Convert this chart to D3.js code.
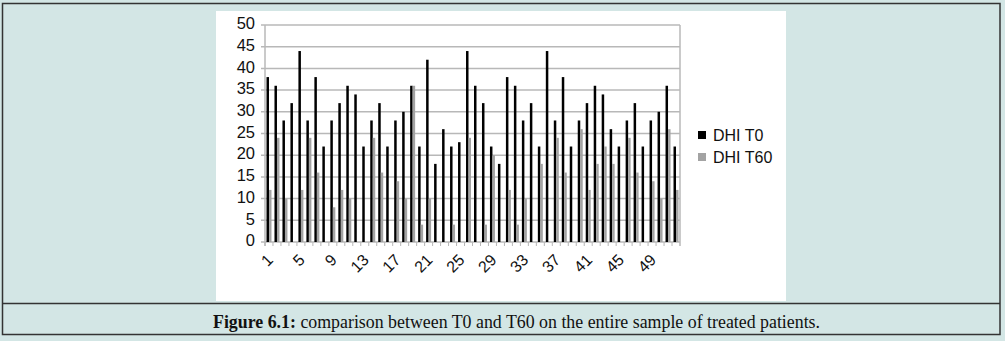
<!DOCTYPE html>
<html><head><meta charset="utf-8">
<script src="https://cdn.jsdelivr.net/npm/d3@7"></script>
<style>body{margin:0;background:#fff}svg{display:block}</style>
</head><body>
<svg id="c" width="1005" height="341"></svg>
<script>
const categories = d3.range(1, 53).map(String);
const seriesNames = ["DHI T0", "DHI T60"];
const dhiT0 = [38,36,28,32,44,28,38,22,28,32,36,34,22,
               28,32,22,28,30,36,22,42,18,26,22,23,44,
               36,32,22,18,38,36,28,32,22,44,28,38,22,
               28,32,36,34,26,22,28,32,22,28,30,36,22];
const dhiT60 = [12,24,10,0,12,24,16,0,8,12,10,0,0,
                24,16,0,14,10,36,4,10,0,0,4,0,24,
                0,4,20,0,12,4,10,0,18,0,24,16,0,
                26,12,18,22,18,0,24,16,0,14,10,26,12];
const yTicks = [0,5,10,15,20,25,30,35,40,45,50];
const xTickLabels = ["1","5","9","13","17","21","25","29","33","37","41","45","49"];
const colors = ["#000000", "#a3a3a3"];

const svg = d3.select("#c");
// outer frame
svg.append("rect").attr("x",0).attr("y",0).attr("width",1005).attr("height",341).attr("fill","#d3e6e5");
svg.append("rect").attr("x",2.5).attr("y",3.5).attr("width",997.5).attr("height",331).attr("fill","none").attr("stroke","#333").attr("stroke-width",1.5);
svg.append("line").attr("x1",2.5).attr("x2",1000).attr("y1",303.5).attr("y2",303.5).attr("stroke","#333").attr("stroke-width",1.5);
svg.append("rect").attr("x",216).attr("y",11).attr("width",570).attr("height",290).attr("fill","#fff");

const L = 265, R = 680, T = 25, B = 242;
const x0 = d3.scaleBand().domain(categories).range([L, R]).paddingInner(0).paddingOuter(0);
const x1 = d3.scaleBand().domain(seriesNames).range([0, x0.bandwidth()]).paddingInner(0).paddingOuter(0.6);
const y = d3.scaleLinear().domain([0, 50]).range([B, T]);

// gridlines
const g = svg.append("g");
g.selectAll("line.grid").data(yTicks).join("line")
  .attr("x1", L - 4).attr("x2", R).attr("y1", d => y(d)).attr("y2", d => y(d))
  .attr("stroke", "#b8b8b8").attr("stroke-width", 1.5);
g.append("line").attr("x1", L).attr("x2", L).attr("y1", T).attr("y2", B + 4).attr("stroke", "#b8b8b8").attr("stroke-width", 1.5);
g.append("line").attr("x1", R).attr("x2", R).attr("y1", T).attr("y2", B + 4).attr("stroke", "#b8b8b8").attr("stroke-width", 1.5);
// x ticks at category boundaries
g.selectAll("line.xt").data(categories).join("line")
  .attr("x1", d => x0(d)).attr("x2", d => x0(d)).attr("y1", B).attr("y2", B + 4)
  .attr("stroke", "#b8b8b8").attr("stroke-width", 1);

// y labels
svg.append("g").selectAll("text").data(yTicks).join("text")
  .attr("x", L - 10).attr("y", d => y(d) - 1.5).attr("dy", "0.35em")
  .attr("text-anchor", "end").attr("font-family", "Liberation Sans, Arial, sans-serif")
  .attr("font-size", 16.5).attr("fill", "#111").text(d => d);

// bars
const series = [dhiT0, dhiT60];
series.forEach((vals, si) => {
  svg.append("g").selectAll("rect").data(categories).join("rect")
    .attr("x", (d) => x0(d) + x1(seriesNames[si]))
    .attr("width", x1.bandwidth())
    .attr("y", (d, i) => y(vals[i]))
    .attr("height", (d, i) => B - y(vals[i]))
    .attr("fill", colors[si]);
});

// x labels
svg.append("g").selectAll("text").data(xTickLabels).join("text")
  .attr("transform", d => `translate(${x0(d) + x0.bandwidth() / 2 + 1},${B + 15}) rotate(-45)`)
  .attr("text-anchor", "end").attr("dy", "0.35em")
  .attr("font-family", "Liberation Sans, Arial, sans-serif").attr("font-size", 16).attr("fill", "#111")
  .text(d => d);

// legend
const lg = svg.append("g");
seriesNames.forEach((s, i) => {
  lg.append("rect").attr("x", 698).attr("y", 131 + i * 22).attr("width", 8).attr("height", 8).attr("fill", colors[i]);
  lg.append("text").attr("x", 713).attr("y", 135 + i * 22).attr("dy", "0.35em")
    .attr("font-family", "Liberation Sans, Arial, sans-serif").attr("font-size", 16).attr("fill", "#111").text(s);
});

// caption
const cap = svg.append("text").attr("x", 213).attr("y", 322).attr("dy", "0.35em")
  .attr("font-family", "Liberation Serif, Times New Roman, serif").attr("font-size", 17.85).attr("fill", "#111");
cap.append("tspan").attr("font-weight", "bold").text("Figure 6.1:");
cap.append("tspan").text(" comparison between T0 and T60 on the entire sample of treated patients.");
</script>
</body></html>
